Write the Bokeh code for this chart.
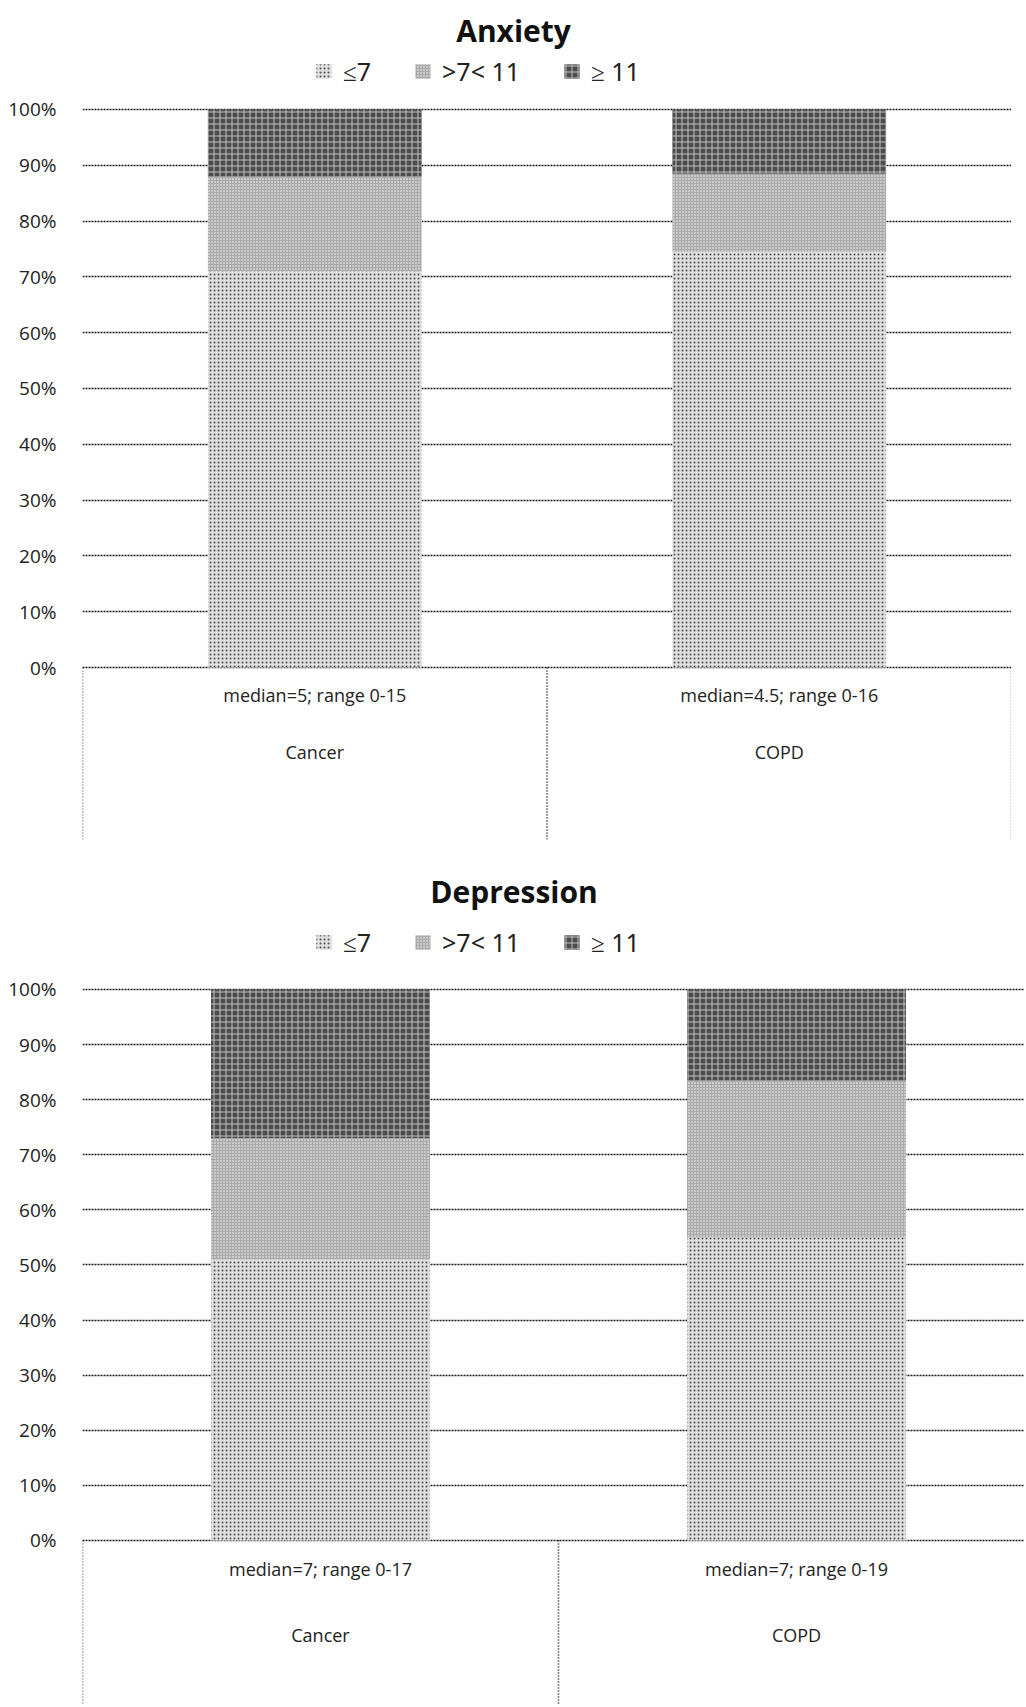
from bokeh.plotting import figure
from bokeh.models import (Range1d, FixedTicker, NumeralTickFormatter, Legend,
                          LegendItem, ColumnDataSource, Label)
from bokeh.layouts import column
from bokeh.embed import file_html
from bokeh.resources import INLINE
from bokeh.core.properties import value

# ---------------- data ----------------
categories = ["Cancer", "COPD"]
levels = ["le7", "mid", "ge11"]
level_labels = ["≤7", ">7< 11", "≥ 11"]

anxiety_le7 = [0.71, 0.745]
anxiety_mid = [0.17, 0.14]
anxiety_ge11 = [0.12, 0.115]
anxiety_notes = ["median=5; range 0-15", "median=4.5; range 0-16"]

depression_le7 = [0.51, 0.55]
depression_mid = [0.22, 0.285]
depression_ge11 = [0.27, 0.165]
depression_notes = ["median=7; range 0-17", "median=7; range 0-19"]

y_ticks = [0, 0.1, 0.2, 0.3, 0.4, 0.5, 0.6, 0.7, 0.8, 0.9, 1.0]

FONT = "Open Sans"
fill_colors = ["#e0e0e0", "#a9a9a9", "#4c4c4c"]
hatch_patterns = ["dot", "dot", "cross"]
hatch_colors = ["#4a4a4a", "#ffffff", "#c0c0c0"]
hatch_scales = [4, 3, 6]


def make_chart(title, le7, mid, ge11, notes, width, height, x_end, y_start,
               y_end, box_bottom, title_x, title_y, legend_y, note_y, cat_y):
    xs = [i + 0.5 for i in range(len(categories))]
    src = ColumnDataSource(dict(x=xs, le7=le7, mid=mid, ge11=ge11,
                                cat=categories, note=notes))
    p = figure(width=width, height=height, output_backend="svg",
               toolbar_location=None, title=None,
               x_range=Range1d(0, x_end), y_range=Range1d(y_start, y_end),
               min_border_left=82, min_border_right=0,
               min_border_top=0, min_border_bottom=0)
    p.outline_line_color = None
    p.background_fill_color = "white"
    p.border_fill_color = "white"

    # grid
    p.xgrid.visible = False
    p.ygrid.ticker = FixedTicker(ticks=y_ticks)
    p.ygrid.grid_line_color = "#1a1a1a"
    p.ygrid.grid_line_dash = "2 1"
    p.ygrid.grid_line_width = 1.3

    # axes
    p.xaxis.visible = False
    ya = p.yaxis[0]
    ya.ticker = FixedTicker(ticks=y_ticks)
    ya.formatter = NumeralTickFormatter(format="0%")
    ya.axis_line_color = None
    ya.major_tick_line_color = None
    ya.minor_tick_line_color = None
    ya.major_label_standoff = 20
    ya.major_label_text_font = FONT
    ya.major_label_text_font_size = "19px"
    ya.major_label_text_color = "#222222"

    rends = p.vbar_stack(levels, x="x", width=0.46, source=src,
                         fill_color=fill_colors, line_color=None,
                         hatch_pattern=hatch_patterns, hatch_color=hatch_colors,
                         hatch_scale=hatch_scales, hatch_weight=1)

    # box under the axis
    n = len(categories)
    p.segment(x0=list(range(n + 1)), y0=[0] * (n + 1),
              x1=list(range(n + 1)), y1=[box_bottom] * (n + 1),
              line_color="#111111", line_dash="1 2", line_width=1.6)

    p.text(x="x", y=note_y, text="note", source=src, text_align="center",
           text_baseline="middle", text_font=value(FONT),
           text_font_size="18px", text_color="#222222")
    p.text(x="x", y=cat_y, text="cat", source=src, text_align="center",
           text_baseline="middle", text_font=value(FONT),
           text_font_size="18px", text_color="#222222")

    legend = Legend(items=[LegendItem(label=l, renderers=[r])
                           for l, r in zip(level_labels, rends)],
                    orientation="horizontal", location=(232, legend_y),
                    border_line_color=None, background_fill_alpha=0,
                    label_text_font="Noto Sans", label_text_font_size="25px",
                    label_text_color="#222222", glyph_width=19,
                    glyph_height=18, spacing=42, label_standoff=10,
                    padding=0, margin=0)
    p.add_layout(legend, "center")

    p.add_layout(Label(x=title_x, y=title_y, text=title, text_align="center",
                       text_baseline="middle", text_font=FONT,
                       text_font_size="30px", text_font_style="bold",
                       text_color="#111111"))
    return p


top = make_chart("Anxiety", anxiety_le7, anxiety_mid, anxiety_ge11,
                 anxiety_notes, 1011, 868, 2.0, -0.3602, 1.1953, -0.308,
                 0.928, 1.1416, 780, -0.049, -0.152)
bottom = make_chart("Depression", depression_le7, depression_mid,
                    depression_ge11, depression_notes, 1024, 837, 1.979,
                    -0.2995, 1.2196, -0.2995, 0.9065, 1.178, 746,
                    -0.051, -0.171)

layout = column(top, bottom, spacing=0)
open("out.html", "w").write(file_html(layout, INLINE))
